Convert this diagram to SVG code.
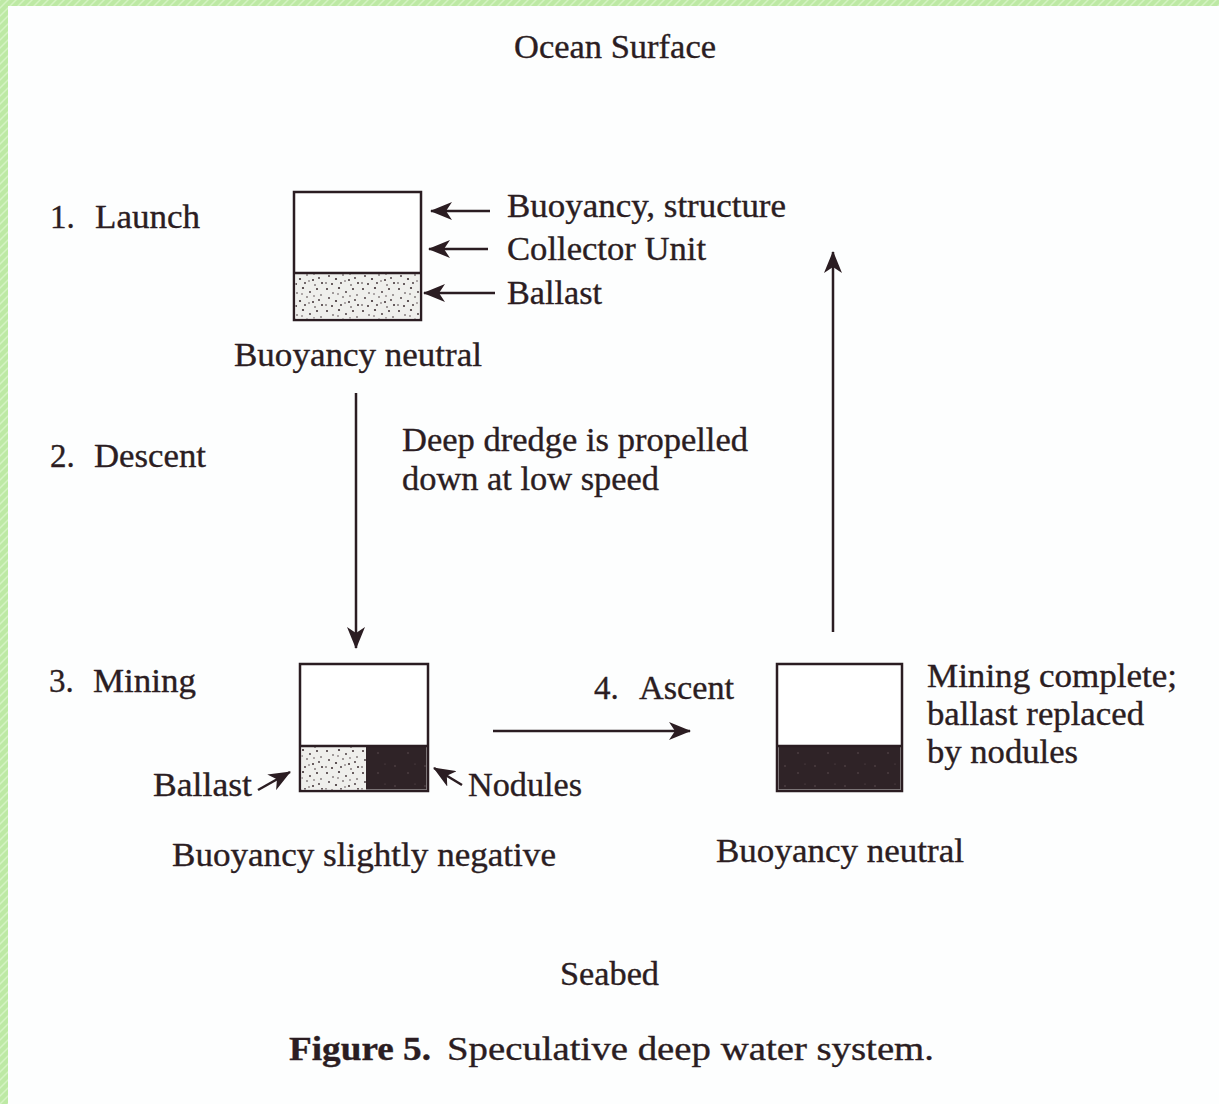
<svg xmlns="http://www.w3.org/2000/svg" width="1219" height="1104" viewBox="0 0 1219 1104">
<defs>
<style>
text{font-family:"Liberation Serif","Times New Roman",serif;font-size:33px;fill:#2b1d22;stroke:#2b1d22;stroke-width:0.35}
.b{font-weight:bold}
.box{fill:#ffffff;stroke:#2b1d22;stroke-width:2.5}
.ln{stroke:#2b1d22;stroke-width:2.5;fill:none}
</style>
<pattern id="hatch" width="8" height="8" patternUnits="userSpaceOnUse">
<rect width="8" height="8" fill="#bde9a4"/>
<path d="M0 8L8 0M-2 2L2-2M6 10L10 6" stroke="#d4f3c2" stroke-width="1.5"/>
</pattern>
<pattern id="stip" width="36" height="22" patternUnits="userSpaceOnUse">
<rect width="36" height="22" fill="#efefec"/>
<g fill="#3a2c30">
<circle cx="3" cy="3" r="1"/><circle cx="9" cy="7" r="0.8"/><circle cx="15" cy="2" r="1.1"/><circle cx="22" cy="6" r="0.9"/><circle cx="29" cy="3" r="1"/><circle cx="33" cy="9" r="0.8"/>
<circle cx="5" cy="12" r="0.9"/><circle cx="12" cy="15" r="1.1"/><circle cx="19" cy="11" r="0.8"/><circle cx="25" cy="16" r="1"/><circle cx="31" cy="14" r="0.9"/>
<circle cx="2" cy="19" r="0.8"/><circle cx="8" cy="20" r="1"/><circle cx="17" cy="19" r="0.9"/><circle cx="27" cy="21" r="0.8"/><circle cx="34" cy="19" r="1"/>
<circle cx="14" cy="8" r="0.7"/><circle cx="26" cy="10" r="0.7"/><circle cx="21" cy="17" r="0.7"/>
</g>
</pattern>
<pattern id="dark" width="30" height="20" patternUnits="userSpaceOnUse">
<rect width="30" height="20" fill="#2f2327"/>
<g fill="#5e4e52"><circle cx="5" cy="6" r="0.8"/><circle cx="18" cy="13" r="0.8"/><circle cx="25" cy="4" r="0.6"/></g>
</pattern>
<marker id="ahL" markerWidth="22" markerHeight="18" refX="21" refY="9" orient="auto" markerUnits="userSpaceOnUse" viewBox="0 0 22 18">
<path d="M0 0L22 9L0 18L6 9Z" fill="#2b1d22"/>
</marker>
</defs>
<rect width="1219" height="1104" fill="#fdfefe"/>
<rect x="0" y="0" width="1219" height="6" fill="url(#hatch)"/>
<rect x="0" y="0" width="8" height="1104" fill="url(#hatch)"/>

<g id="labels">
<text x="514" y="58" textLength="202" lengthAdjust="spacingAndGlyphs">Ocean Surface</text>
<text x="50" y="228">1.</text><text x="95" y="228" textLength="105" lengthAdjust="spacingAndGlyphs">Launch</text>
<text x="50" y="467">2.</text><text x="94" y="467" textLength="112" lengthAdjust="spacingAndGlyphs">Descent</text>
<text x="49" y="692">3.</text><text x="93" y="692" textLength="103" lengthAdjust="spacingAndGlyphs">Mining</text>
<text x="594" y="699">4.</text><text x="639" y="699" textLength="95" lengthAdjust="spacingAndGlyphs">Ascent</text>
<text x="402" y="451" textLength="346" lengthAdjust="spacingAndGlyphs">Deep dredge is propelled</text>
<text x="402" y="490" textLength="257" lengthAdjust="spacingAndGlyphs">down at low speed</text>
<text x="560" y="985" textLength="99" lengthAdjust="spacingAndGlyphs">Seabed</text>
<text x="289" y="1060" class="b" textLength="142" lengthAdjust="spacingAndGlyphs">Figure 5.</text>
<text x="447" y="1060" textLength="487" lengthAdjust="spacingAndGlyphs">Speculative deep water system.</text>
</g>

<g id="node-launch">
<rect class="box" x="294" y="192" width="127" height="128"/>
<rect x="295.5" y="273" width="124" height="45.5" fill="url(#stip)"/>
<line class="ln" x1="294" y1="273" x2="421" y2="273"/>
<text x="507" y="217" textLength="279" lengthAdjust="spacingAndGlyphs">Buoyancy, structure</text>
<text x="507" y="260" textLength="199" lengthAdjust="spacingAndGlyphs">Collector Unit</text>
<text x="507" y="304" textLength="95" lengthAdjust="spacingAndGlyphs">Ballast</text>
<text x="234" y="366" textLength="248" lengthAdjust="spacingAndGlyphs">Buoyancy neutral</text>
</g>

<g id="node-mining">
<rect class="box" x="300" y="664" width="128" height="127"/>
<rect x="301.5" y="746" width="65" height="43.5" fill="url(#stip)"/>
<rect x="366" y="746" width="60.5" height="43.5" fill="url(#dark)"/>
<line class="ln" x1="300" y1="746" x2="428" y2="746"/>
<text x="153" y="796" textLength="99" lengthAdjust="spacingAndGlyphs">Ballast</text>
<text x="468" y="796" textLength="114" lengthAdjust="spacingAndGlyphs">Nodules</text>
<text x="172" y="866" textLength="384" lengthAdjust="spacingAndGlyphs">Buoyancy slightly negative</text>
</g>

<g id="node-ascent">
<rect class="box" x="777" y="664" width="125" height="127"/>
<rect x="778.5" y="746" width="122" height="43.5" fill="url(#dark)"/>
<line class="ln" x1="777" y1="746" x2="902" y2="746"/>
<text x="927" y="687" textLength="250" lengthAdjust="spacingAndGlyphs">Mining complete;</text>
<text x="927" y="725" textLength="217" lengthAdjust="spacingAndGlyphs">ballast replaced</text>
<text x="927" y="763" textLength="151" lengthAdjust="spacingAndGlyphs">by nodules</text>
<text x="716" y="862" textLength="248" lengthAdjust="spacingAndGlyphs">Buoyancy neutral</text>
</g>

<g id="connectors">
<line class="ln" x1="490" y1="211" x2="431" y2="211" marker-end="url(#ahL)"/>
<line class="ln" x1="488" y1="249" x2="429" y2="249" marker-end="url(#ahL)"/>
<line class="ln" x1="495" y1="293" x2="424" y2="293" marker-end="url(#ahL)"/>
<line class="ln" x1="356" y1="393" x2="356" y2="648" marker-end="url(#ahL)"/>
<line class="ln" x1="833" y1="632" x2="833" y2="252" marker-end="url(#ahL)"/>
<line class="ln" x1="493" y1="731" x2="690" y2="731" marker-end="url(#ahL)"/>
<line class="ln" x1="258" y1="790" x2="290" y2="772" marker-end="url(#ahL)"/>
<line class="ln" x1="462" y1="785" x2="434" y2="768" marker-end="url(#ahL)"/>
</g>
</svg>
